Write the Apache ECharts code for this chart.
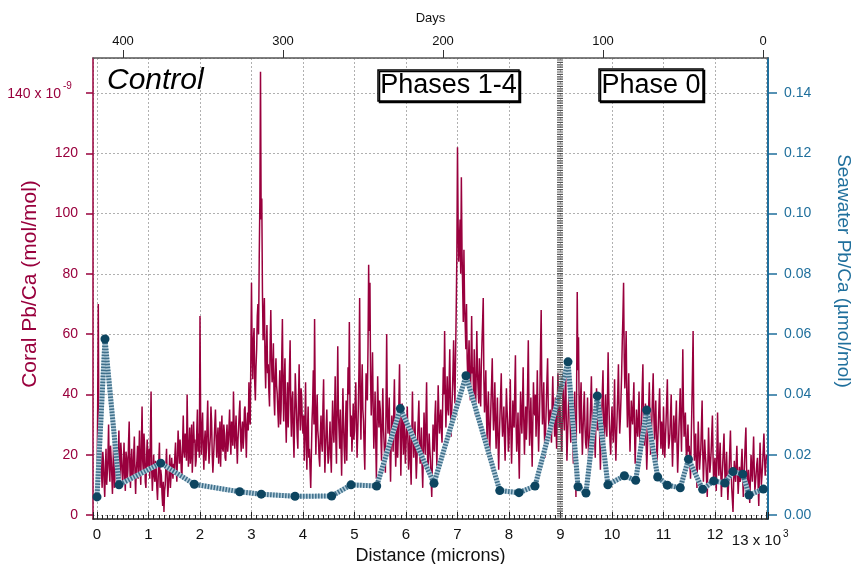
<!DOCTYPE html>
<html>
<head>
<meta charset="utf-8">
<title>Control Pb/Ca</title>
<script src="https://cdn.jsdelivr.net/npm/echarts@6/dist/echarts.min.js"></script>
<style>
  html, body { margin: 0; padding: 0; background: #fff; }
  #chart { width: 851px; height: 564px; }
</style>
</head>
<body>
<div id="chart"></div>
<script>
// coral Pb/Ca (x 10^-9 mol/mol), one reading every 12.5 microns from 0 to 13000
// (one row = 500 microns)
var coralStep = 12.5;
var coralVals = [
  8, 35, 70, 18, 12, 16, 24, 14, 9, 21, 18, 11, 6, 15, 22, 10, 14, 19, 30, 16, 11, 23, 19, 13, 7, 17, 25, 9, 13, 21, 17, 12, 9, 18, 28, 15, 12, 24, 20, 14,
  10, 17, 24, 13, 8, 21, 19, 11, 15, 24, 31, 16, 9, 18, 22, 12, 13, 20, 26, 14, 7, 15, 18, 23, 12, 19, 28, 15, 10, 24, 36, 18, 14, 27, 22, 11, 9, 19, 25, 16,
  16, 22, 12, 27, 41, 15, 8, 14, 20, 13, 11, 18, 15, 9, 5, 12, 18, 24, 9, 15, 13, 7, 3, 11, 1, 8, 10, 16, 22, 13, 6, 10, 14, 20, 9, 13, 19, 15, 12, 17,
  15, 20, 24, 16, 11, 19, 28, 22, 17, 25, 21, 14, 13, 24, 33, 21, 19, 27, 26, 18, 40, 25, 16, 22, 29, 17, 22, 30, 14, 20, 31, 24, 25, 16, 18, 28, 35, 21, 27, 19,
  66, 32, 20, 28, 34, 22, 15, 24, 28, 18, 22, 30, 38, 24, 17, 22, 26, 36, 31, 20, 14, 19, 24, 30, 35, 26, 19, 25, 29, 17, 23, 31, 16, 25, 33, 22, 21, 30, 27, 19,
  18, 26, 30, 21, 24, 29, 35, 25, 20, 31, 28, 23, 41, 30, 22, 27, 33, 24, 17, 25, 29, 34, 38, 26, 21, 28, 31, 22, 26, 35, 36, 27, 19, 30, 34, 28, 44, 32, 30, 52,
  77, 54, 45, 58, 62, 44, 38, 49, 55, 66, 70, 60, 85, 104, 147, 98, 105, 74, 58, 65, 72, 51, 42, 55, 63, 47, 50, 41, 36, 57, 68, 52, 44, 48, 57, 39, 33, 46, 52, 43,
  40, 34, 29, 41, 48, 30, 35, 52, 65, 42, 31, 45, 52, 33, 24, 36, 44, 29, 37, 48, 58, 35, 26, 38, 41, 27, 19, 32, 47, 40, 33, 26, 22, 38, 50, 34, 28, 42, 39, 30,
  27, 33, 18, 29, 44, 25, 15, 28, 36, 19, 22, 15, 9, 20, 31, 37, 48, 30, 65, 38, 20, 32, 40, 28, 25, 19, 16, 27, 33, 24, 21, 36, 45, 26, 14, 22, 29, 35, 24, 17,
  19, 25, 31, 20, 14, 27, 38, 29, 24, 33, 46, 25, 17, 36, 56, 34, 28, 22, 35, 24, 13, 28, 42, 30, 22, 17, 30, 38, 18, 32, 49, 40, 64, 37, 26, 33, 21, 28, 37, 25,
  28, 37, 44, 30, 19, 27, 36, 49, 72, 38, 25, 41, 50, 35, 31, 22, 15, 33, 47, 40, 38, 56, 83, 61, 77, 45, 33, 42, 54, 36, 22, 30, 41, 25, 12, 28, 46, 35, 29, 38,
  35, 26, 18, 31, 42, 29, 24, 18, 14, 36, 60, 34, 27, 33, 39, 22, 11, 24, 33, 27, 21, 35, 45, 28, 16, 23, 30, 19, 26, 38, 50, 27, 13, 25, 37, 29, 20, 31, 28, 17,
  23, 29, 36, 24, 15, 21, 28, 17, 10, 26, 41, 27, 19, 24, 31, 20, 12, 18, 25, 32, 38, 25, 17, 22, 29, 16, 9, 21, 34, 26, 20, 32, 44, 25, 14, 20, 27, 22, 18, 12,
  6, 18, 30, 24, 21, 33, 38, 25, 16, 30, 43, 34, 27, 31, 35, 28, 24, 37, 49, 40, 61, 42, 29, 38, 46, 35, 33, 44, 55, 37, 26, 34, 40, 48, 58, 44, 37, 52, 68, 86,
  122, 96, 84, 90, 98, 80, 112, 88, 76, 64, 88, 70, 63, 55, 70, 52, 45, 51, 58, 44, 38, 50, 66, 47, 49, 40, 55, 43, 33, 46, 61, 48, 42, 37, 52, 41, 36, 49, 57, 64,
  72, 45, 34, 40, 48, 33, 25, 35, 41, 28, 19, 29, 37, 44, 52, 36, 28, 34, 44, 30, 22, 31, 39, 24, 15, 26, 33, 40, 47, 32, 26, 30, 36, 25, 18, 31, 42, 35, 30, 21,
  24, 33, 45, 28, 17, 26, 38, 31, 29, 42, 53, 30, 21, 27, 34, 22, 12, 28, 41, 33, 27, 37, 49, 31, 20, 29, 36, 25, 31, 44, 58, 36, 23, 30, 39, 27, 16, 30, 44, 35,
  33, 40, 26, 35, 48, 31, 21, 30, 40, 55, 68, 41, 30, 36, 44, 27, 19, 29, 37, 45, 52, 36, 28, 33, 35, 27, 24, 37, 46, 35, 31, 26, 39, 30, 22, 34, 47, 38, 29, 36,
  36, 28, 21, 34, 43, 33, 28, 39, 50, 31, 18, 26, 33, 40, 45, 30, 24, 31, 38, 25, 17, 30, 41, 22, 6, 40, 74, 48, 59, 36, 27, 38, 44, 29, 20, 28, 35, 41, 30, 24,
  22, 30, 39, 25, 16, 24, 31, 38, 46, 33, 25, 30, 35, 26, 19, 30, 42, 34, 28, 31, 37, 24, 15, 25, 33, 41, 48, 32, 23, 31, 40, 30, 26, 38, 54, 39, 30, 24, 20, 29,
  36, 29, 24, 33, 45, 27, 18, 26, 33, 41, 50, 35, 27, 32, 39, 47, 58, 66, 77, 52, 42, 50, 61, 40, 29, 37, 47, 31, 21, 30, 38, 33, 30, 37, 44, 28, 17, 26, 35, 29,
  26, 33, 41, 27, 19, 25, 34, 42, 50, 31, 23, 29, 37, 24, 15, 22, 29, 36, 44, 30, 20, 26, 32, 40, 47, 33, 25, 31, 38, 26, 18, 24, 30, 36, 42, 29, 22, 31, 28, 20,
  36, 27, 19, 25, 31, 38, 45, 30, 22, 24, 27, 34, 40, 25, 16, 24, 33, 28, 24, 31, 38, 23, 14, 21, 29, 35, 42, 30, 21, 37, 55, 36, 26, 30, 34, 23, 17, 24, 30, 21,
  23, 17, 12, 24, 35, 47, 61, 33, 18, 22, 27, 16, 9, 20, 31, 22, 15, 19, 22, 30, 38, 21, 11, 18, 25, 20, 17, 11, 6, 18, 29, 20, 14, 17, 21, 27, 33, 19, 10, 16,
  19, 13, 8, 21, 34, 20, 13, 18, 24, 14, 6, 12, 17, 22, 27, 16, 10, 15, 21, 12, 5, 10, 15, 22, 28, 17, 9, 5, 1, 11, 18, 14, 11, 17, 23, 14, 7, 12, 16, 11,
  12, 17, 22, 13, 6, 12, 18, 24, 29, 16, 9, 12, 15, 9, 4, 12, 20, 15, 11, 19, 26, 15, 8, 11, 14, 17, 19, 10, 3, 14, 24, 16, 10, 13, 17, 22, 27, 19, 13, 17,
  20
];

// seawater Pb/Ca (umol/mol) samples
var seaDist = [0, 155, 427, 1237, 1890, 2770, 3190, 3845, 4557, 4932, 5431, 5890,
  6544, 7165, 7820, 8194, 8505, 9146, 9340, 9495, 9715, 9920, 10240, 10460, 10674,
  10887, 11075, 11326, 11485, 11760, 11975, 12194, 12350, 12540, 12660, 12938];
var seaVals = [0.0060, 0.0584, 0.0100, 0.0172, 0.0102, 0.0077, 0.0069, 0.0062, 0.0063,
  0.0100, 0.0096, 0.0353, 0.0105, 0.0462, 0.0081, 0.0074, 0.0096, 0.0508, 0.0094,
  0.0073, 0.0395, 0.0100, 0.0130, 0.0115, 0.0348, 0.0126, 0.0099, 0.0090, 0.0185,
  0.0085, 0.0113, 0.0106, 0.0144, 0.0135, 0.0066, 0.0086];

var phaseBreak = 8990;

var red = '#99003d';
var blue = '#1f6f9c';
var font = "'Liberation Sans', Arial, Helvetica, sans-serif";

var coralData = coralVals.map(function (v, i) { return [i * coralStep, v]; });
var seaData = seaDist.map(function (d, i) { return [d, seaVals[i]]; });

var myChart = echarts.init(document.getElementById('chart'));
var options = {
  animation: false,
  backgroundColor: '#fff',
  textStyle: { fontFamily: font },
  grid: { left: 93, right: 83, top: 58, bottom: 45, containLabel: false, outerBoundsMode: 'none' },
  xAxis: [{
    type: 'value',
    position: 'bottom',
    min: -77.7,
    max: 13029.3,
    splitNumber: 13,
    name: 'Distance (microns)',
    nameLocation: 'middle',
    nameGap: 25,
    nameTextStyle: { fontSize: 18, color: '#111', fontFamily: font },
    axisLine: { show: true, onZero: false, lineStyle: { color: '#222', width: 1.5 } },
    axisTick: { show: true, inside: true, length: 7, lineStyle: { color: '#222' } },
    minorTick: { show: true, splitNumber: 10, length: 4, lineStyle: { color: '#222' } },
    axisLabel: {
      fontSize: 15, color: '#111', margin: 8, fontFamily: font,
      showMinLabel: false, showMaxLabel: false,
      formatter: function (v) { return v === 13000 ? '' : String(Math.round(v / 1000)); }
    },
    splitLine: { show: true, lineStyle: { color: '#b0b0b0', type: [2, 2], width: 1 } }
  }, {
    type: 'value',
    position: 'top',
    inverse: true,
    min: -3.125,
    max: 418.75,
    splitNumber: 4,
    name: 'Days',
    nameLocation: 'middle',
    nameGap: 33,
    nameTextStyle: { fontSize: 13, color: '#111', fontFamily: font },
    axisLine: { show: true, onZero: false, lineStyle: { color: '#555', width: 1.5 } },
    axisTick: { show: true, inside: false, length: 8, lineStyle: { color: '#333' } },
    axisLabel: { fontSize: 13, color: '#111', margin: 10, fontFamily: font, showMinLabel: false, showMaxLabel: false },
    splitLine: { show: false }
  }],
  yAxis: [{
    type: 'value',
    position: 'left',
    min: -1.33,
    max: 151.6,
    splitNumber: 7,
    axisLine: { show: true, onZero: false, lineStyle: { color: red, width: 1.5 } },
    axisTick: { show: true, inside: false, length: 7, lineStyle: { color: red, width: 1.5 } },
    axisLabel: {
      fontSize: 14, color: red, margin: 15, fontFamily: font,
      showMinLabel: false, showMaxLabel: false,
      formatter: function (v) { return v === 140 ? '' : String(v); }
    },
    splitLine: { show: true, lineStyle: { color: '#b0b0b0', type: [2, 2], width: 1 } }
  }, {
    type: 'value',
    position: 'right',
    min: -0.00133,
    max: 0.1516,
    splitNumber: 7,
    axisLine: { show: true, onZero: false, lineStyle: { color: blue, width: 2 } },
    axisTick: { show: true, inside: false, length: 9, lineStyle: { color: blue, width: 1.5 } },
    axisLabel: {
      fontSize: 14, color: blue, margin: 16, fontFamily: font,
      showMinLabel: false, showMaxLabel: false,
      formatter: function (v) { return v.toFixed(2); }
    },
    splitLine: { show: false }
  }],
  series: [{
    name: 'Coral',
    type: 'line',
    xAxisIndex: 0,
    yAxisIndex: 0,
    data: coralData,
    showSymbol: false,
    sampling: 'none',
    lineStyle: { color: red, width: 1.5 },
    z: 2,
    markLine: {
      silent: true,
      symbol: 'none',
      label: { show: false },
      lineStyle: { color: '#555', width: 6, type: [1.2, 1.2] },
      data: [{ xAxis: phaseBreak }]
    }
  }, {
    // light under-stroke of the hatched seawater line
    name: 'Seawater base',
    type: 'line',
    xAxisIndex: 0,
    yAxisIndex: 1,
    data: seaData,
    showSymbol: false,
    lineStyle: { color: '#b4cddb', width: 5 },
    z: 3
  }, {
    name: 'Seawater',
    type: 'line',
    xAxisIndex: 0,
    yAxisIndex: 1,
    data: seaData,
    symbol: 'circle',
    symbolSize: 9,
    itemStyle: { color: '#0d4560' },
    lineStyle: { color: '#3e6f8a', width: 5, type: [1.5, 1.5] },
    z: 4
  }],
  graphic: [
    { type: 'text', left: 107, top: 66, z: 10,
      style: { text: 'Control', font: 'italic 30px ' + font, fill: '#000' } },
    { type: 'rect', shape: { x: 378, y: 70, width: 141, height: 31 }, z: 10,
      style: { fill: '#fff', stroke: '#000', lineWidth: 1.5, shadowColor: '#000', shadowOffsetX: 1.5, shadowOffsetY: 1.5, shadowBlur: 0 } },
    { type: 'text', x: 448.5, y: 86, z: 11,
      style: { text: 'Phases 1-4', font: '27px ' + font, fill: '#000', align: 'center', verticalAlign: 'middle' } },
    { type: 'rect', shape: { x: 599, y: 69, width: 104, height: 32 }, z: 10,
      style: { fill: '#fff', stroke: '#000', lineWidth: 1.5, shadowColor: '#000', shadowOffsetX: 1.5, shadowOffsetY: 1.5, shadowBlur: 0 } },
    { type: 'text', x: 651, y: 85.5, z: 11,
      style: { text: 'Phase 0', font: '27px ' + font, fill: '#000', align: 'center', verticalAlign: 'middle' } },
    // axis titles
    { type: 'text', x: 30, y: 284, rotation: Math.PI / 2, z: 10,
      style: { text: 'Coral Pb/Ca (mol/mol)', font: '21px ' + font, fill: red, align: 'center', verticalAlign: 'middle' } },
    { type: 'text', x: 843, y: 271, rotation: -Math.PI / 2, z: 10,
      style: { text: 'Seawater Pb/Ca (µmol/mol)', font: '19px ' + font, fill: blue, align: 'center', verticalAlign: 'middle' } },
    // top label of the coral axis
    { type: 'text', x: 61, y: 94, z: 10,
      style: { text: '140 x 10', font: '14px ' + font, fill: red, align: 'right', verticalAlign: 'middle' } },
    { type: 'text', x: 63, y: 86, z: 10,
      style: { text: '-9', font: '10px ' + font, fill: red, align: 'left', verticalAlign: 'middle' } },
    // last distance label
    { type: 'text', x: 781, y: 541, z: 10,
      style: { text: '13 x 10', font: '15px ' + font, fill: '#111', align: 'right', verticalAlign: 'middle' } },
    { type: 'text', x: 783, y: 534, z: 10,
      style: { text: '3', font: '10px ' + font, fill: '#111', align: 'left', verticalAlign: 'middle' } }
  ]
};
myChart.setOption(options);
window.onresize = myChart.resize;
</script>
</body>
</html>
